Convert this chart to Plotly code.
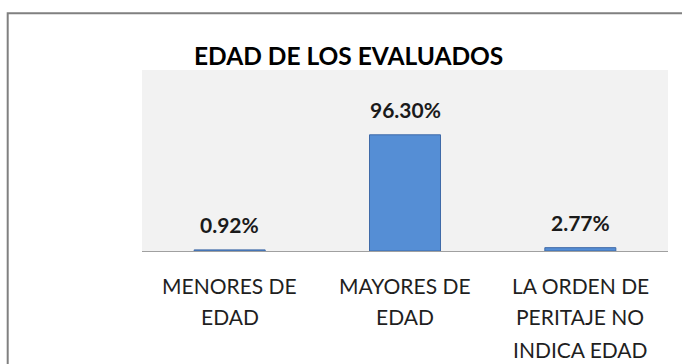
import plotly.graph_objects as go

# Age groups of the evaluated people (percent of total)
category_lines = [
    ["MENORES DE", "EDAD"],
    ["MAYORES DE", "EDAD"],
    ["LA ORDEN DE", "PERITAJE NO", "INDICA EDAD"],
]
categories = [" ".join(lines) for lines in category_lines]
percentages = [0.92, 96.30, 2.77]
chart_title = "EDAD DE LOS EVALUADOS"

W, H = 682, 364
ML, MR, MT, MB = 142, 14, 70, 113
plot_w = W - ML - MR
plot_h = H - MT - MB

fig = go.Figure(
    go.Bar(
        x=categories,
        y=percentages,
        marker=dict(color="#558ED5", line=dict(color="#3F6AA8", width=1)),
        hoverinfo="skip",
    )
)

annotations = []

# value labels above each bar
for cat, val in zip(categories, percentages):
    annotations.append(dict(
        x=cat, y=val, xref="x", yref="y",
        text=f"{val:.2f}%", showarrow=False,
        yanchor="middle", yshift=25,
        font=dict(family="Lato", size=21, color="#1a1a1a", weight="bold"),
    ))

# multi-line category labels under the axis
line_offsets = [34, 65, 98]
for cat, lines in zip(categories, category_lines):
    for i, line in enumerate(lines):
        annotations.append(dict(
            x=cat, y=0, xref="x", yref="paper",
            text=line, showarrow=False,
            yanchor="middle", yshift=-line_offsets[i],
            font=dict(family="Lato", size=21, color="#1f1f1f"),
        ))

# chart title
annotations.append(dict(
    x=(348 - ML) / plot_w, y=(plot_h - (55 - MT)) / plot_h,
    xref="paper", yref="paper", xanchor="center", yanchor="middle",
    text=f"<b>{chart_title}</b>", showarrow=False,
    font=dict(family="Lato", size=24.5, color="#000000"),
))

# outer frame (left and top edges) as one open path
frame_x = (7.7 - ML) / plot_w
frame_y = (plot_h + MT - 13.3) / plot_h
right_end = (W - ML) / plot_w
bottom_end = -(MB / plot_h)
shapes = [
    dict(type="path", xref="paper", yref="paper",
         path=f"M {frame_x} {bottom_end} L {frame_x} {frame_y} L {right_end} {frame_y}",
         line=dict(color="#808080", width=2), fillcolor="rgba(0,0,0,0)"),
]

fig.update_layout(
    width=W, height=H,
    margin=dict(l=ML, r=MR, t=MT, b=MB),
    paper_bgcolor="white",
    plot_bgcolor="#F2F2F2",
    bargap=0.595,
    showlegend=False,
    annotations=annotations,
    shapes=shapes,
    xaxis=dict(showticklabels=False, showgrid=False, zeroline=False,
               showline=True, linecolor="#A0A0A0", linewidth=1.3, ticks=""),
    yaxis=dict(range=[0, 150], visible=False, showgrid=False, zeroline=False),
)

fig.write_html("out.html", config={"displayModeBar": False, "responsive": False})
